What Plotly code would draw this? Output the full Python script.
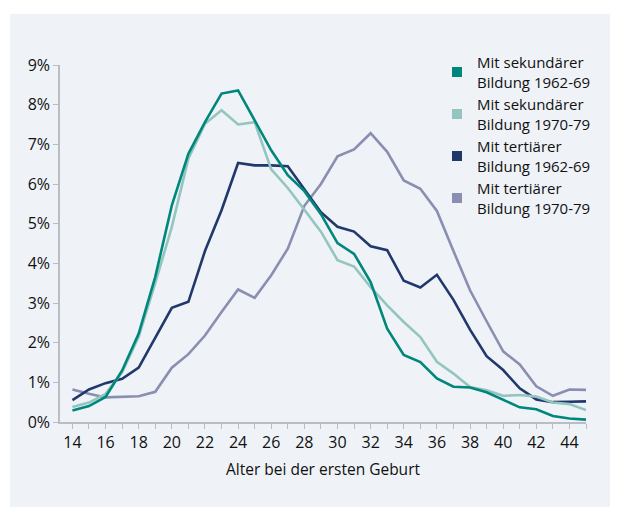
import plotly.graph_objects as go

ages = list(range(14, 46))

sek_1962_69 = [0.29, 0.40, 0.63, 1.30, 2.23, 3.66, 5.46, 6.76, 7.56, 8.28, 8.36, 7.60,
               6.85, 6.22, 5.82, 5.24, 4.51, 4.24, 3.53, 2.35, 1.69, 1.51, 1.10, 0.89,
               0.87, 0.75, 0.56, 0.37, 0.32, 0.15, 0.09, 0.06]
sek_1970_79 = [0.38, 0.49, 0.71, 1.25, 2.15, 3.50, 4.92, 6.64, 7.52, 7.86, 7.50, 7.56,
               6.37, 5.90, 5.35, 4.80, 4.08, 3.92, 3.40, 2.94, 2.52, 2.14, 1.52, 1.22,
               0.88, 0.80, 0.66, 0.68, 0.64, 0.49, 0.45, 0.30]
ter_1962_69 = [0.55, 0.82, 0.98, 1.09, 1.37, 2.14, 2.88, 3.03, 4.31, 5.34, 6.53, 6.47,
               6.47, 6.45, 5.88, 5.29, 4.92, 4.80, 4.43, 4.33, 3.56, 3.39, 3.71, 3.08,
               2.33, 1.66, 1.31, 0.85, 0.57, 0.50, 0.51, 0.52]
ter_1970_79 = [0.82, 0.71, 0.62, 0.63, 0.65, 0.76, 1.37, 1.71, 2.18, 2.77, 3.34, 3.13,
               3.70, 4.37, 5.45, 6.00, 6.70, 6.87, 7.28, 6.81, 6.09, 5.88, 5.32, 4.31,
               3.32, 2.54, 1.78, 1.45, 0.90, 0.66, 0.82, 0.81]

series_names = ["Mit sekundärer<br>Bildung 1962-69", "Mit sekundärer<br>Bildung 1970-79",
                "Mit tertiärer<br>Bildung 1962-69", "Mit tertiärer<br>Bildung 1970-79"]
series_values = [sek_1962_69, sek_1970_79, ter_1962_69, ter_1970_79]
colors = ["#00877b", "#94c5bf", "#21386b", "#8a8eb1"]

y_ticks = list(range(0, 10))
y_ticktext = [f"{v}%" for v in y_ticks]
x_title = "Alter bei der ersten Geburt"

BG = "#eff3f8"
AX = "#b9bdc4"
TXT = "#111111"
FONT = "Open Sans, Roboto, Liberation Sans, Arial, sans-serif"

fig = go.Figure()
draw_order = [3, 2, 1, 0]
for i in draw_order:
    fig.add_trace(go.Scatter(x=ages, y=series_values[i], mode="lines",
                             line=dict(color=colors[i], width=2.6),
                             showlegend=False, hoverinfo="skip"))
for i in range(4):
    fig.add_trace(go.Scatter(x=[None], y=[None], mode="markers", name=series_names[i],
                             marker=dict(symbol="square", size=10, color=colors[i]),
                             showlegend=True))

W, H = 618, 507
ml, mr, mt, mb = 52, 40, 57, 93
pw, ph = W - ml - mr, H - mt - mb

def px_x(px):
    return (px - ml) / pw

def px_y(py):
    return 1 + (mt - py) / ph

shapes = [
    dict(type="rect", xref="paper", yref="paper", x0=px_x(-5), x1=px_x(2), y0=px_y(H + 5), y1=px_y(-5),
         fillcolor="white", line=dict(width=0), layer="below"),
    dict(type="rect", xref="paper", yref="paper", x0=px_x(-5), x1=px_x(W + 5), y0=px_y(6), y1=px_y(-5),
         fillcolor="white", line=dict(width=0), layer="below"),
]

def f(size):
    return dict(size=size, family=FONT, color=TXT, weight=500)

fig.update_layout(
    width=W, height=H, autosize=False,
    margin=dict(l=ml, r=mr, t=mt, b=mb, pad=0),
    paper_bgcolor=BG, plot_bgcolor=BG,
    font=f(16),
    shapes=shapes,
    showlegend=True,
    legend=dict(x=px_x(429), y=px_y(38), xanchor="left", yanchor="top",
                bgcolor="rgba(0,0,0,0)", font=f(15),
                itemwidth=30, tracegroupgap=0),
    xaxis=dict(range=[13.25, 45], tickmode="linear", tick0=14, dtick=2,
               ticks="outside", ticklen=5, tickwidth=1, tickcolor=AX,
               showline=True, linecolor=AX, linewidth=1.5,
               showgrid=False, zeroline=False,
               minor=dict(tick0=14, dtick=1, ticks="outside", ticklen=5, tickcolor=AX, tickwidth=1, showgrid=False),
               title=dict(text=x_title, standoff=12, font=f(15.5)),
               tickfont=f(16)),
    yaxis=dict(range=[0, 9], tickmode="array", tickvals=y_ticks, ticktext=y_ticktext,
               ticks="outside", ticklen=5, tickwidth=1, tickcolor=AX,
               showline=True, linecolor=AX, linewidth=1.5,
               showgrid=False, zeroline=False,
               tickfont=f(16)),
)

fig.write_html("out.html")
